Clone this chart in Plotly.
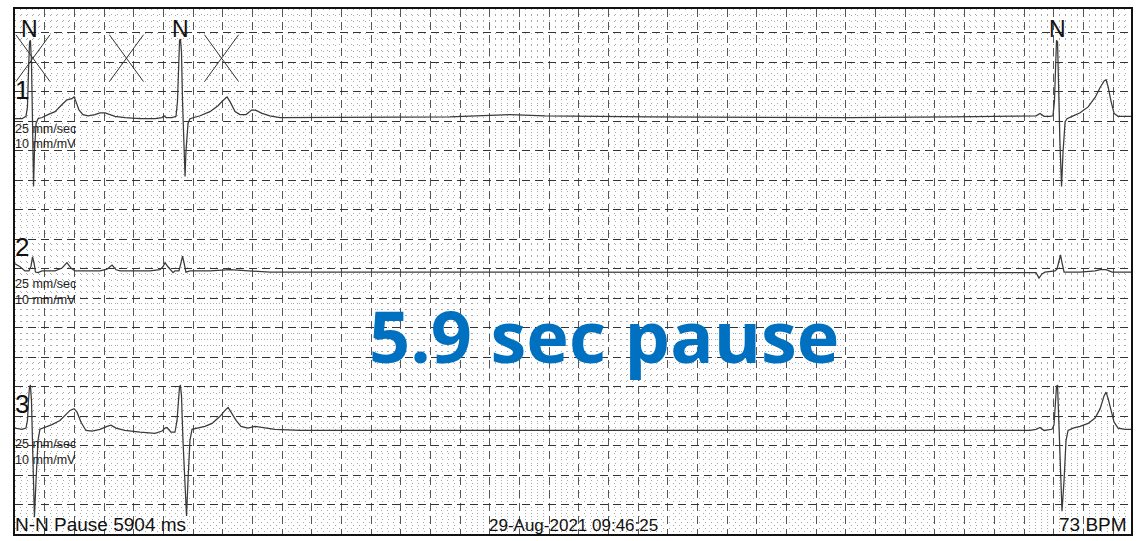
import plotly.graph_objects as go

# ---------------- data (time in ms, amplitude in mV) ----------------
LEAD1_POINTS = [
    (0, -0.01), (47, -0.01), (74, 0.03), (84, 0.19), (91, 0.79), (98, 1.29), (104, 1.32),
    (111, 0.95), (118, -0.06), (125, -1.16), (131, -0.57), (142, -0.09), (155, -0.01),
    (182, 0.01), (222, 0.06), (270, 0.11), (317, 0.23), (350, 0.31), (384, 0.33), (398, 0.36),
    (411, 0.28), (431, 0.14), (458, 0.06), (492, 0.04), (539, 0.06), (573, 0.09), (607, 0.09),
    (640, 0.06), (674, 0.03), (741, 0.01), (843, -0.01), (944, -0.01), (991, 0.01), (1004, 0.04),
    (1018, 0.01), (1058, 0.01), (1085, 0.03), (1095, 0.28), (1102, 0.95), (1109, 1.32),
    (1115, 1.34), (1122, 1.12), (1129, 0.28), (1139, -0.73), (1146, -0.99), (1152, -0.57),
    (1166, -0.09), (1179, -0.01), (1213, 0.01), (1247, 0.04), (1314, 0.11), (1368, 0.21),
    (1402, 0.30), (1429, 0.36), (1449, 0.28), (1483, 0.11), (1516, 0.06), (1557, 0.06),
    (1597, 0.14), (1624, 0.13), (1665, 0.08), (1718, 0.04), (1786, 0.01), (2258, 0.01),
    (2931, 0.02), (3336, 0.06), (3572, 0.04), (4279, 0.02), (4953, 0.01), (5627, 0.01),
    (6301, 0.02), (6840, 0.03), (6881, 0.04), (6908, 0.08), (6935, 0.03), (6975, 0.03),
    (6995, 0.04), (7005, 0.28), (7012, 0.95), (7019, 1.32), (7026, 1.29), (7032, 0.62),
    (7042, -0.40), (7053, -1.16), (7063, -0.57), (7077, -0.06), (7090, -0.01), (7124, 0.03),
    (7178, 0.09), (7232, 0.19), (7279, 0.35), (7313, 0.52), (7340, 0.63), (7353, 0.65),
    (7367, 0.53), (7387, 0.28), (7407, 0.08), (7434, 0.03), (7481, 0.03), (7521, 0.03),
]

LEAD2_POINTS = [
    (0, 0.12), (34, 0.07), (67, 0.0), (94, 0.0), (108, 0.08), (118, 0.24), (128, 0.14),
    (138, -0.02), (155, -0.03), (182, 0.0), (270, 0.0), (317, 0.05), (350, 0.14), (377, 0.05),
    (404, 0.0), (573, 0.0), (620, 0.03), (654, 0.10), (681, 0.02), (708, 0.0), (910, 0.0),
    (977, 0.02), (997, 0.07), (1011, 0.14), (1031, 0.07), (1051, 0.0), (1065, -0.03),
    (1078, 0.0), (1105, 0.0), (1119, 0.14), (1129, 0.25), (1139, 0.14), (1152, -0.02),
    (1179, 0.0), (1314, 0.0), (1449, 0.02), (1584, 0.0), (1718, -0.02), (2594, -0.02),
    (3942, -0.02), (5290, -0.02), (6840, -0.02), (6881, -0.03), (6901, -0.12), (6921, -0.05),
    (6941, -0.02), (6988, 0.0), (7009, 0.0), (7022, 0.03), (7036, 0.17), (7046, 0.27),
    (7056, 0.14), (7070, -0.02), (7097, -0.02), (7178, -0.02), (7279, 0.0), (7313, 0.02),
    (7353, 0.02), (7394, -0.02), (7521, -0.02),
]

LEAD3_POINTS = [
    (0, 0.02), (47, 0.0), (74, 0.02), (84, 0.15), (91, 0.49), (98, 0.73), (104, 0.74),
    (111, 0.49), (121, -0.52), (131, -1.49), (142, -0.86), (155, -0.19), (168, 0.0),
    (202, 0.03), (249, 0.08), (303, 0.15), (344, 0.25), (371, 0.32), (398, 0.35), (418, 0.29),
    (445, 0.12), (478, -0.02), (519, -0.03), (573, 0.0), (620, 0.05), (647, 0.07), (681, 0.02),
    (741, -0.02), (843, -0.05), (944, -0.07), (991, -0.03), (1011, 0.02), (1024, 0.03),
    (1038, -0.02), (1051, -0.05), (1078, -0.05), (1092, 0.15), (1102, 0.49), (1109, 0.73),
    (1115, 0.74), (1122, 0.57), (1132, -0.19), (1146, -1.03), (1156, -1.47), (1166, -0.86),
    (1179, -0.19), (1193, 0.0), (1233, 0.02), (1280, 0.05), (1328, 0.10), (1382, 0.22),
    (1415, 0.32), (1436, 0.37), (1456, 0.29), (1490, 0.15), (1523, 0.05), (1570, 0.02),
    (1617, 0.05), (1665, 0.03), (1752, 0.0), (1921, -0.02), (2931, -0.02), (3942, -0.03),
    (5290, -0.02), (6840, -0.02), (6881, 0.0), (6908, 0.03), (6935, -0.02), (6988, 0.0),
    (7002, 0.07), (7012, 0.49), (7019, 0.73), (7026, 0.74), (7032, 0.32), (7042, -0.52),
    (7056, -1.39), (7070, -0.86), (7083, -0.19), (7097, -0.02), (7131, 0.02), (7178, 0.05),
    (7232, 0.10), (7279, 0.19), (7313, 0.35), (7340, 0.57), (7353, 0.63), (7367, 0.52),
    (7387, 0.29), (7407, 0.12), (7434, 0.02), (7481, 0.0), (7521, 0.0),
]

LEAD_NAMES = ["1", "2", "3"]
BEAT_LABEL_MS = [96, 1116, 7026]          # beats marked "N"
BEAT_LABELS = ["N", "N", "N"]
X_MARK_MS = [121, 751, 1392]              # crossed-out markers on top strip
PAUSE_MS = 5904
HEART_RATE = 73
TIMESTAMP = "29-Aug-2021 09:46:25"
SPEED_TEXT = "25 mm/sec"
GAIN_TEXT = "10 mm/mV"
BIG_TEXT = "5.9 sec pause"

# ---------------- layout constants ----------------
W, H = 1140, 541
ML, MR, MT, MB = 15, 9, 7, 7
X_MAX_MS = 7521
Y_MAX_MM = 89.0
GAIN_MM_PER_MV = 10
LEAD_BASE_MM = [70.5, 44.6, 17.75]
SMALL_TEXT_MM = [(68.6, 66.1), (42.3, 39.7), (15.2, 12.5)]
LEAD_NAME_MM = [75.3, 48.6, 22.1]

FONT = "Liberation Sans, Arial, sans-serif"
TRACE_COLOR = "#3a3a3a"

fig = go.Figure()
for pts, base in zip([LEAD1_POINTS, LEAD2_POINTS, LEAD3_POINTS], LEAD_BASE_MM):
    fig.add_trace(go.Scatter(
        x=[p[0] for p in pts],
        y=[base + GAIN_MM_PER_MV * p[1] for p in pts],
        mode="lines",
        line=dict(color=TRACE_COLOR, width=1.25),
        hoverinfo="skip",
        showlegend=False,
    ))

annotations = []
# lead names and calibration text
for name, ny, (sy, gy) in zip(LEAD_NAMES, LEAD_NAME_MM, SMALL_TEXT_MM):
    annotations.append(dict(xref="paper", yref="y", x=0, y=ny, text=name, showarrow=False,
                            xanchor="left", yanchor="middle", xshift=-2,
                            font=dict(family=FONT, size=26, color="#111")))
    annotations.append(dict(xref="paper", yref="y", x=0, y=sy, text=SPEED_TEXT, showarrow=False,
                            xanchor="left", yanchor="middle", xshift=-2,
                            font=dict(family=FONT, size=12.5, color="#222")))
    annotations.append(dict(xref="paper", yref="y", x=0, y=gy, text=GAIN_TEXT, showarrow=False,
                            xanchor="left", yanchor="middle", xshift=-2,
                            font=dict(family=FONT, size=12.5, color="#222")))

# beat labels
for t, lab in zip(BEAT_LABEL_MS, BEAT_LABELS):
    annotations.append(dict(xref="x", yref="y", x=t, y=85.6, text=lab, showarrow=False,
                            xanchor="center", yanchor="middle",
                            font=dict(family=FONT, size=23, color="#111")))

# footer
annotations.append(dict(xref="paper", yref="paper", x=0, y=0.0, text=f"N-N Pause {PAUSE_MS} ms",
                        showarrow=False, xanchor="left", yanchor="bottom", xshift=-2, yshift=-3,
                        font=dict(family=FONT, size=19, color="#111")))
annotations.append(dict(xref="paper", yref="paper", x=0.5, y=0.0, text=TIMESTAMP,
                        showarrow=False, xanchor="center", yanchor="bottom", yshift=-3,
                        font=dict(family=FONT, size=17, color="#111")))
annotations.append(dict(xref="paper", yref="paper", x=1, y=0.0, text=f"{HEART_RATE} BPM",
                        showarrow=False, xanchor="right", yanchor="bottom", xshift=-2, yshift=-3,
                        font=dict(family=FONT, size=19, color="#111")))
# big text
annotations.append(dict(xref="paper", yref="y", x=(604 - ML) / (W - ML - MR), y=33.8, text=BIG_TEXT,
                        showarrow=False, xanchor="center", yanchor="middle",
                        font=dict(family="Open Sans, sans-serif", size=72, color="#0070C0",
                                  weight="bold")))

shapes = []
XM_HALF_MS, XM_YC, XM_HALF_MM = 115, 80.66, 3.97
for t in X_MARK_MS:
    shapes.append(dict(type="line", xref="x", yref="y", x0=t - XM_HALF_MS, x1=t + XM_HALF_MS,
                       y0=XM_YC + XM_HALF_MM, y1=XM_YC - XM_HALF_MM,
                       line=dict(color="#333", width=1)))
    shapes.append(dict(type="line", xref="x", yref="y", x0=t - XM_HALF_MS, x1=t + XM_HALF_MS,
                       y0=XM_YC - XM_HALF_MM, y1=XM_YC + XM_HALF_MM,
                       line=dict(color="#333", width=1)))

fig.update_layout(
    width=W, height=H,
    margin=dict(l=ML, r=MR, t=MT, b=MB, pad=0),
    paper_bgcolor="white", plot_bgcolor="white",
    annotations=annotations, shapes=shapes,
    showlegend=False,
)
fig.update_xaxes(range=[0, X_MAX_MS], tick0=0, dtick=200, showticklabels=False, ticks="",
                 showgrid=True, gridcolor="#555", gridwidth=1, griddash="8px,5px",
                 minor=dict(tick0=0, dtick=40, showgrid=True, gridcolor="#a8a8a8", gridwidth=1,
                            griddash="1px,5px"),
                 zeroline=False, showline=True, linecolor="#111", linewidth=1.5, mirror=True,
                 fixedrange=True)
fig.update_yaxes(range=[0, Y_MAX_MM], tick0=0, dtick=5, showticklabels=False, ticks="",
                 showgrid=True, gridcolor="#333", gridwidth=1, griddash="8px,5px",
                 minor=dict(tick0=0, dtick=1, showgrid=True, gridcolor="#a8a8a8", gridwidth=1,
                            griddash="1px,5px"),
                 zeroline=False, showline=True, linecolor="#111", linewidth=1.5, mirror=True,
                 fixedrange=True)

fig.write_html("out.html", config={"displayModeBar": False})
